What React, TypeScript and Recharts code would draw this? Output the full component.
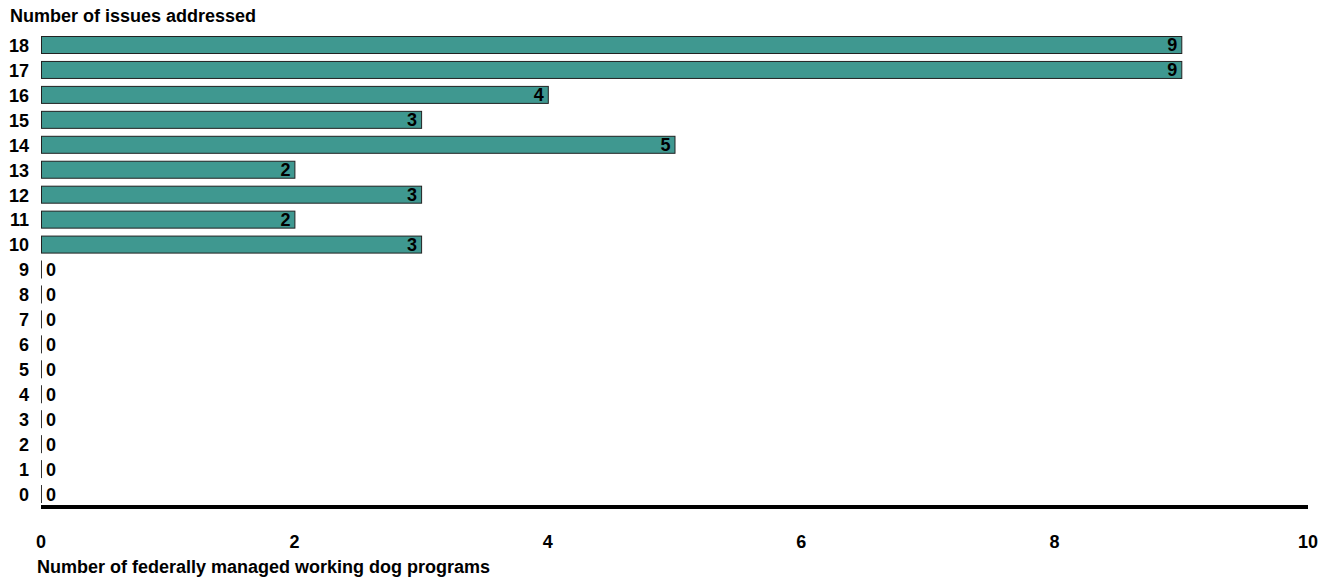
import { BarChart, Bar, XAxis, YAxis, LabelList } from "recharts";

const issues = ["18", "17", "16", "15", "14", "13", "12", "11", "10", "9", "8", "7", "6", "5", "4", "3", "2", "1", "0"];
const programs = [9, 9, 4, 3, 5, 2, 3, 2, 3, 0, 0, 0, 0, 0, 0, 0, 0, 0, 0];
const xTicks = [0, 2, 4, 6, 8, 10];

const FONT = "'Liberation Sans', Arial, sans-serif";
const SIZE = 18;

const data = issues.map((issue, i) => ({ issue, programs: programs[i] }));

function BarShape(props: any) {
  const { x, y, width, height } = props;
  if (!width) {
    return <line x1={x + 0.5} x2={x + 0.5} y1={y} y2={y + height} stroke="#333" strokeWidth={1} />;
  }
  return (
    <rect x={x + 0.5} y={y + 0.5} width={width} height={height - 1} fill="#3f9890" stroke="#222" strokeWidth={1} />
  );
}

function BarLabel(props: any) {
  const { x, y, width, height, value } = props;
  const zero = !value;
  return (
    <text
      x={zero ? x + 5 : x + width - 4}
      y={y + height / 2}
      dy="0.36em"
      textAnchor={zero ? "start" : "end"}
      fontFamily={FONT}
      fontWeight="bold"
      fontSize={SIZE}
      fill="#000"
    >
      {value}
    </text>
  );
}

export default function App() {
  return (
    <div style={{ position: "absolute", left: 0, top: 0, width: 1326, height: 580, background: "#fff" }}>
      <svg width={1326} height={580} style={{ position: "absolute", left: 0, top: 0 }}>
        <text x={10} y={22} fontFamily={FONT} fontWeight="bold" fontSize={SIZE} fill="#000">
          Number of issues addressed
        </text>
      </svg>
      <div style={{ position: "absolute", left: 0, top: 0 }}>
        <BarChart
          width={1326}
          height={580}
          data={data}
          layout="vertical"
          margin={{ top: 33, right: 18, bottom: 33, left: 0 }}
          barCategoryGap={0}
        >
          <XAxis
            type="number"
            domain={[0, 10]}
            ticks={xTicks}
            height={40}
            axisLine={{ stroke: "#000", strokeWidth: 4 }}
            tickLine={false}
            tickSize={0}
            tickMargin={28}
            tick={{ fontFamily: FONT, fontWeight: "bold", fontSize: SIZE, fill: "#000" }}
            label={(p: any) => (
              <text
                x={p.viewBox.x - 4}
                y={p.viewBox.y + 66}
                fontFamily={FONT}
                fontWeight="bold"
                fontSize={SIZE}
                fill="#000"
              >
                Number of federally managed working dog programs
              </text>
            )}
          />
          <YAxis
            type="category"
            dataKey="issue"
            width={41}
            axisLine={false}
            tickLine={false}
            tickSize={0}
            tickMargin={12}
            interval={0}
            tick={{ fontFamily: FONT, fontWeight: "bold", fontSize: SIZE, fill: "#000" }}
          />
          <Bar dataKey="programs" barSize={18} shape={<BarShape />} isAnimationActive={false}>
            <LabelList dataKey="programs" content={<BarLabel />} />
          </Bar>
        </BarChart>
      </div>
    </div>
  );
}
